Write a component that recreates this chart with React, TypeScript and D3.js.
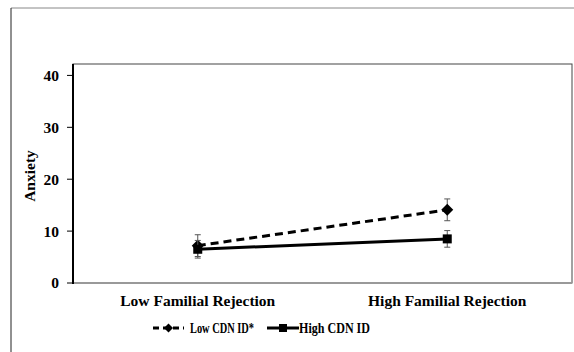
import React from "react";
import * as d3 from "d3";

const categories = ["Low Familial Rejection", "High Familial Rejection"];
const seriesNames = ["Low CDN ID*", "High CDN ID"];
const lowCdnValues = [7.2, 14.1];
const lowCdnErrors = [2.1, 2.1];
const highCdnValues = [6.5, 8.5];
const highCdnErrors = [1.7, 1.6];
const yTicks = [0, 10, 20, 30, 40];

const W = 574;
const H = 352;
const FONT = "'Liberation Serif', 'Times New Roman', Times, serif";

export default function App() {
  const left = 73, right = 572, top = 64, bottom = 283;
  const x = d3.scaleBand<string>().domain(categories).range([left, right]);
  const y = d3.scaleLinear().domain([0, 42.2]).range([bottom, top]);
  const cx = (c: string) => (x(c) as number) + x.bandwidth() / 2;

  const line = d3
    .line<number>()
    .x((_, i) => cx(categories[i]))
    .y((d) => y(d));

  const series = [
    { name: seriesNames[0], values: lowCdnValues, errs: lowCdnErrors, dash: "8,5", marker: "diamond" },
    { name: seriesNames[1], values: highCdnValues, errs: highCdnErrors, dash: undefined, marker: "square" },
  ];

  const diamond = (px: number, py: number, r: number) =>
    `M${px},${py - r}L${px + r},${py}L${px},${py + r}L${px - r},${py}Z`;

  const legendY = 328;
  const legendItems = [
    { x0: 153, x1: 184, tx: 190, tl: 64, s: series[0] },
    { x0: 267, x1: 299, tx: 299, tl: 71, s: series[1] },
  ];

  const textStyle = { fontFamily: FONT, fontWeight: 700 as const };

  return (
    <svg
      width={W}
      height={H}
      style={{ position: "absolute", left: 0, top: 0, background: "#fff" }}
    >
      <rect x={0} y={0} width={W} height={H} fill="#fff" />
      {/* outer frame */}
      <line x1={11} y1={8} x2={W} y2={8} stroke="#888" strokeWidth={1} />
      <line x1={11} y1={8} x2={11} y2={H} stroke="#222" strokeWidth={1} />
      {/* plot frame */}
      <rect x={left} y={top} width={right - left} height={bottom - top} fill="none" stroke="#444" strokeWidth={1} />
      <line x1={left} y1={bottom} x2={right} y2={bottom} stroke="#999" strokeWidth={2} />
      <line x1={left} y1={top} x2={left} y2={bottom + 1} stroke="#000" strokeWidth={2} />
      {/* y ticks */}
      {yTicks.map((t) => (
        <g key={t}>
          <line x1={left - 6} x2={left} y1={y(t)} y2={y(t)} stroke="#000" strokeWidth={1} />
          <text
            x={59}
            y={y(t)}
            dy="0.35em"
            textAnchor="end"
            fontSize={15.5}
            style={textStyle}
          >
            {t}
          </text>
        </g>
      ))}
      <text
        transform={`translate(35,176) rotate(-90)`}
        textAnchor="middle"
        fontSize={15.5}
        style={textStyle}
      >
        Anxiety
      </text>
      {/* x labels */}
      {categories.map((c) => (
        <text key={c} x={cx(c)} y={306} textAnchor="middle" fontSize={15.5} style={textStyle}>
          {c}
        </text>
      ))}
      {/* series */}
      {series.map((s) => (
        <g key={s.name}>
          {s.values.map((v, i) => {
            const px = cx(categories[i]);
            return (
              <g key={i} stroke="#555" strokeWidth={1}>
                <line x1={px} x2={px} y1={y(v - s.errs[i])} y2={y(v + s.errs[i])} />
                <line x1={px - 3} x2={px + 3} y1={y(v - s.errs[i])} y2={y(v - s.errs[i])} />
                <line x1={px - 3} x2={px + 3} y1={y(v + s.errs[i])} y2={y(v + s.errs[i])} />
              </g>
            );
          })}
          <path
            d={line(s.values) || ""}
            fill="none"
            stroke="#000"
            strokeWidth={3}
            strokeDasharray={s.dash}
          />
          {s.values.map((v, i) => {
            const px = cx(categories[i]);
            const py = y(v);
            return s.marker === "diamond" ? (
              <path key={i} d={diamond(px, py, 6)} fill="#000" />
            ) : (
              <rect key={i} x={px - 4.5} y={py - 4.5} width={9} height={9} fill="#000" />
            );
          })}
        </g>
      ))}
      {/* legend */}
      {legendItems.map((it) => {
        const mx = (it.x0 + it.x1) / 2;
        return (
          <g key={it.s.name}>
            <line
              x1={it.x0}
              x2={it.x1}
              y1={legendY}
              y2={legendY}
              stroke="#000"
              strokeWidth={3}
              strokeDasharray={it.s.dash ? "6,4" : undefined}
            />
            {it.s.marker === "diamond" ? (
              <path d={diamond(mx, legendY, 4.5)} fill="#000" />
            ) : (
              <rect x={mx - 4} y={legendY - 4} width={8} height={8} fill="#000" />
            )}
            <text
              x={it.tx}
              y={legendY + 5}
              fontSize={15.5}
              textLength={it.tl}
              lengthAdjust="spacingAndGlyphs"
              style={textStyle}
            >
              {it.s.name}
            </text>
          </g>
        );
      })}
    </svg>
  );
}
